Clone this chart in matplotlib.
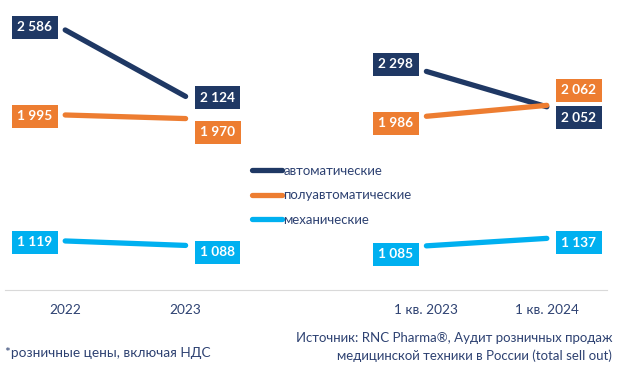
import matplotlib as mpl
import matplotlib.pyplot as plt
import numpy as np

plt.rcParams['font.family'] = ['Lato', 'DejaVu Sans']

categories = ["2022", "2023", "", "1 кв. 2023", "1 кв. 2024"]
series = ["автоматические", "полуавтоматические", "механические"]
auto = [2586, 2124, None, 2298, 2052]
semi = [1995, 1970, None, 1986, 2062]
mech = [1119, 1088, None, 1085, 1137]
values = [auto, semi, mech]

colors = ["#1F3864", "#ED7D31", "#00B0F0"]
txtcol = "#2E4272"

# label offsets in points (dx, dy) per series / point
offs = [
    [(-22, 2), (23, -1), None, (-22, 5), (23, -8)],
    [(-22, -1), (23, -10), None, (-22, -5), (23, 11)],
    [(-22, -1), (23, -5), None, (-22, -6), (23, -3)],
]

fig = plt.figure(figsize=(6.28, 3.74), dpi=100)
ax = fig.add_axes([5/628, 84/374, 602/628, 280/374])

x = np.arange(len(categories))
for vals, col, name, off in zip(values, colors, series, offs):
    for seg in [(0, 1), (3, 4)]:
        xs = [x[i] for i in seg]
        ys = [vals[i] for i in seg]
        ax.plot(xs, ys, color=col, lw=3.8, solid_capstyle='round',
                label=name if seg[0] == 0 else None)
        for i in seg:
            s = f"{vals[i]:,}".replace(",", " ")
            ax.annotate(s, (x[i], vals[i]), xytext=off[i], textcoords='offset points',
                        ha='center', va='center', color='white', fontsize=9.8,
                        fontweight='bold',
                        bbox=dict(boxstyle='square,pad=0.4', fc=col, ec='none'))

ax.set_xlim(-0.5, 4.5)
ax.set_ylim(778, 2725)
ax.set_xticks(x)
ax.set_xticklabels(categories, color=txtcol, fontsize=9.8)
ax.tick_params(axis='x', length=0, pad=10)
ax.set_yticks([])
for sp in ['top', 'left', 'right']:
    ax.spines[sp].set_visible(False)
ax.spines['bottom'].set_color('#D9D9D9')

leg = ax.legend(loc='upper left', bbox_to_anchor=(0.39, 0.49), frameon=False,
                handlelength=2.3, handletextpad=0.1, labelspacing=0.95,
                fontsize=9.5)
for t in leg.get_texts():
    t.set_color(txtcol)

fig.text(5/628, 1 - 353/374, "*розничные цены, включая НДС", color=txtcol,
         fontsize=9.8, va='center')
fig.text(612/628, 1 - 338/374, "Источник: RNC Pharma®, Аудит розничных продаж",
         color=txtcol, fontsize=9.5, va='center', ha='right')
fig.text(612/628, 1 - 356/374, "медицинской техники в России (total sell out)",
         color=txtcol, fontsize=9.5, va='center', ha='right')

plt.savefig("out.png", dpi=100)
